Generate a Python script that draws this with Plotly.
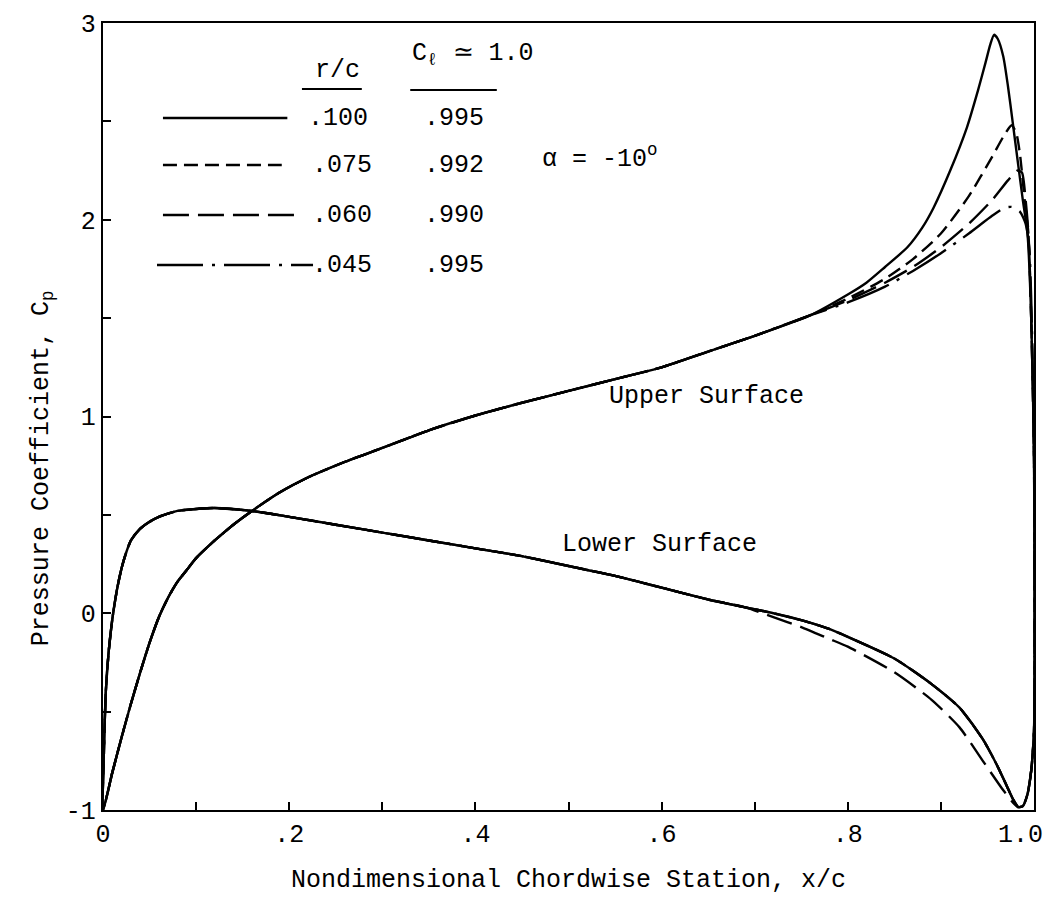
import plotly.graph_objects as go

# ---------------- data ----------------
# shared upper-surface path (all r/c coincide here)
upper_common_x = [0.0, 0.01, 0.02, 0.03, 0.04, 0.05, 0.06, 0.07, 0.08, 0.09, 0.10, 0.12, 0.14, 0.16,
                  0.19, 0.22, 0.26, 0.30, 0.35, 0.40, 0.45, 0.50, 0.55, 0.60, 0.65, 0.70, 0.76]
upper_common_y = [-1.0, -0.81, -0.63, -0.46, -0.30, -0.15, -0.02, 0.08, 0.16, 0.22, 0.28, 0.37, 0.45, 0.52,
                  0.615, 0.69, 0.77, 0.84, 0.93, 1.005, 1.07, 1.13, 1.19, 1.25, 1.33, 1.41, 1.515]

# shared lower-surface path
lower_common_x = [0.0, 0.001, 0.003, 0.006, 0.01, 0.015, 0.02, 0.025, 0.03, 0.04, 0.05, 0.06, 0.08,
                  0.10, 0.12, 0.16, 0.20, 0.25, 0.30, 0.35, 0.40, 0.45, 0.50, 0.55, 0.60, 0.65, 0.69]
lower_common_y = [-1.0, -0.70, -0.40, -0.20, -0.03, 0.12, 0.23, 0.31, 0.37, 0.43, 0.465, 0.49, 0.52,
                  0.53, 0.535, 0.52, 0.49, 0.45, 0.41, 0.37, 0.33, 0.29, 0.24, 0.19, 0.13, 0.07, 0.03]

# upper-surface trailing-edge region, per r/c
up_100_x = [0.80, 0.82, 0.84, 0.864, 0.88, 0.892, 0.91, 0.928, 0.94, 0.948, 0.953, 0.957, 0.961,
            0.967, 0.972, 0.977, 0.983, 0.988, 0.993, 0.997, 1.0]
up_100_y = [1.62, 1.68, 1.76, 1.86, 1.96, 2.06, 2.25, 2.47, 2.66, 2.80, 2.89, 2.94, 2.92,
            2.83, 2.68, 2.50, 2.28, 2.10, 1.93, 1.50, 0.80]
up_075_x = [0.80, 0.84, 0.87, 0.90, 0.93, 0.955, 0.968, 0.976, 0.981, 0.985, 0.990, 0.994, 0.997, 1.0]
up_075_y = [1.60, 1.70, 1.80, 1.93, 2.12, 2.32, 2.43, 2.48, 2.44, 2.33, 2.10, 1.93, 1.50, 0.80]
up_060_x = [0.80, 0.84, 0.87, 0.90, 0.93, 0.955, 0.972, 0.982, 0.987, 0.991, 0.994, 0.997, 1.0]
up_060_y = [1.59, 1.68, 1.76, 1.86, 1.98, 2.10, 2.20, 2.25, 2.24, 2.10, 1.93, 1.50, 0.80]
up_045_x = [0.80, 0.84, 0.87, 0.90, 0.93, 0.955, 0.968, 0.976, 0.985, 0.991, 0.995, 0.998, 1.0]
up_045_y = [1.58, 1.66, 1.74, 1.83, 1.93, 2.02, 2.06, 2.065, 2.04, 1.98, 1.85, 1.40, 0.80]

# lower-surface trailing-edge region
low_a_x = [0.72, 0.75, 0.78, 0.80, 0.85, 0.89, 0.92, 0.945, 0.96, 0.971, 0.978, 0.983, 0.988,
           0.993, 0.997, 1.0]
low_a_y = [0.0, -0.035, -0.08, -0.12, -0.23, -0.36, -0.48, -0.64, -0.77, -0.88, -0.95, -0.985, -0.98,
           -0.92, -0.80, -0.60]
low_060_x = [0.72, 0.75, 0.78, 0.80, 0.85, 0.89, 0.92, 0.945, 0.967, 0.978, 0.983, 0.988, 0.993,
             0.997, 1.0]
low_060_y = [-0.02, -0.07, -0.13, -0.17, -0.30, -0.44, -0.58, -0.75, -0.90, -0.965, -0.985, -0.98, -0.92,
             -0.80, -0.60]

series_names = [".045", ".060", ".075", ".100"]
upper_tails = {".100": (up_100_x, up_100_y), ".075": (up_075_x, up_075_y),
               ".060": (up_060_x, up_060_y), ".045": (up_045_x, up_045_y)}
lower_tails = {".100": (low_a_x, low_a_y), ".075": (low_a_x, low_a_y),
               ".060": (low_060_x, low_060_y), ".045": (low_a_x, low_a_y)}
dashes = {".100": "solid", ".075": "14px,7px", ".060": "26px,9px", ".045": "46px,9px,3px,9px"}

x_tickvals = [0.0, 0.2, 0.4, 0.6, 0.8]
x_ticktext = ["0", ".2", ".4", ".6", ".8"]
y_tickvals = [-1, 0, 1, 2, 3]
y_ticktext = ["-1", "0", "1", "2", "3"]

FONT = "Liberation Mono"
LW = 2.4
TXT = dict(family=FONT, size=25, color="black")

fig = go.Figure()
for name in series_names:
    ux, uy = upper_tails[name]
    lx, ly = lower_tails[name]
    xs = upper_common_x + ux + lx[::-1] + lower_common_x[::-1]
    ys = upper_common_y + uy + ly[::-1] + lower_common_y[::-1]
    fig.add_trace(go.Scatter(x=xs, y=ys, mode="lines", name=name, showlegend=False,
                             line=dict(color="black", width=LW, dash=dashes[name], shape="spline",
                                       smoothing=0.6)))

# ---------------- legend drawn as key lines + text ----------------
leg_rows_y = [2.517, 2.278, 2.024, 1.770]
leg_order = [".100", ".075", ".060", ".045"]
leg_cl = [".995", ".992", ".990", ".995"]
leg_x0 = [0.0644, 0.0644, 0.0644, 0.058]
leg_x1 = [0.198, 0.192, 0.206, 0.2256]
leg_txt_x = [0.252, 0.257, 0.257, 0.257]
shapes = []
annotations = []
for i, name in enumerate(leg_order):
    shapes.append(dict(type="line", xref="x", yref="y", x0=leg_x0[i], x1=leg_x1[i],
                       y0=leg_rows_y[i], y1=leg_rows_y[i],
                       line=dict(color="black", width=LW, dash=dashes[name])))
    annotations.append(dict(x=leg_txt_x[i], y=leg_rows_y[i], xref="x", yref="y", text=name,
                            showarrow=False, font=TXT))
    annotations.append(dict(x=0.377, y=leg_rows_y[i], xref="x", yref="y", text=leg_cl[i],
                            showarrow=False, font=TXT))
# header
annotations.append(dict(x=0.252, y=2.76, xref="x", yref="y", text="r/c", showarrow=False, font=TXT))
annotations.append(dict(x=0.33, y=2.84, xref="x", yref="y", xanchor="left",
                        text="C<sub>ℓ</sub> ≃ 1.0", showarrow=False, font=TXT))
shapes.append(dict(type="line", xref="x", yref="y", x0=0.2137, x1=0.278, y0=2.665, y1=2.665,
                   line=dict(color="black", width=2)))
shapes.append(dict(type="line", xref="x", yref="y", x0=0.33, x1=0.423, y0=2.659, y1=2.659,
                   line=dict(color="black", width=2)))

annotations.append(dict(x=0.534, y=2.32, xref="x", yref="y", text="α = -10<sup>o</sup>",
                        showarrow=False, font=TXT))
annotations.append(dict(x=0.648, y=1.10, xref="x", yref="y", text="Upper Surface",
                        showarrow=False, font=TXT))
annotations.append(dict(x=0.598, y=0.347, xref="x", yref="y", text="Lower Surface",
                        showarrow=False, font=TXT))
# last x tick label, pulled inward as in the reference
annotations.append(dict(x=1.0, y=0, xref="x", yref="paper", text="1.0", xanchor="center",
                        yanchor="top", xshift=-14, yshift=-9, showarrow=False, font=TXT))
# y-axis title (centred lower than the plot middle, as in the reference)
annotations.append(dict(x=-0.0838, y=0.435, xref="paper", yref="paper", textangle=-90,
                        text="Pressure Coefficient, C<sub>p</sub>", showarrow=False, font=TXT))

fig.update_layout(
    width=1048, height=907,
    margin=dict(l=103, r=14, t=23, b=97),
    paper_bgcolor="white", plot_bgcolor="white",
    shapes=shapes, annotations=annotations,
    font=TXT,
)
fig.update_xaxes(range=[0, 1], tickvals=x_tickvals, ticktext=x_ticktext, ticks="inside",
                 ticklen=8, tickwidth=2, tickcolor="black", showline=True, linecolor="black",
                 linewidth=LW, mirror=True, showgrid=False, zeroline=False,
                 minor=dict(dtick=0.1, tick0=0, ticks="inside", ticklen=8, tickwidth=2,
                            tickcolor="black", showgrid=False),
                 tickfont=TXT,
                 title=dict(text="Nondimensional Chordwise Station, x/c", font=TXT, standoff=20))
fig.update_yaxes(range=[-1, 3], tickvals=y_tickvals, ticktext=y_ticktext, ticks="inside",
                 ticklen=8, tickwidth=2, tickcolor="black", showline=True, linecolor="black",
                 linewidth=LW, mirror=True, showgrid=False, zeroline=False,
                 minor=dict(dtick=0.5, tick0=0, ticks="inside", ticklen=8, tickwidth=2,
                            tickcolor="black", showgrid=False),
                 tickfont=TXT)

fig.write_html("out.html")
